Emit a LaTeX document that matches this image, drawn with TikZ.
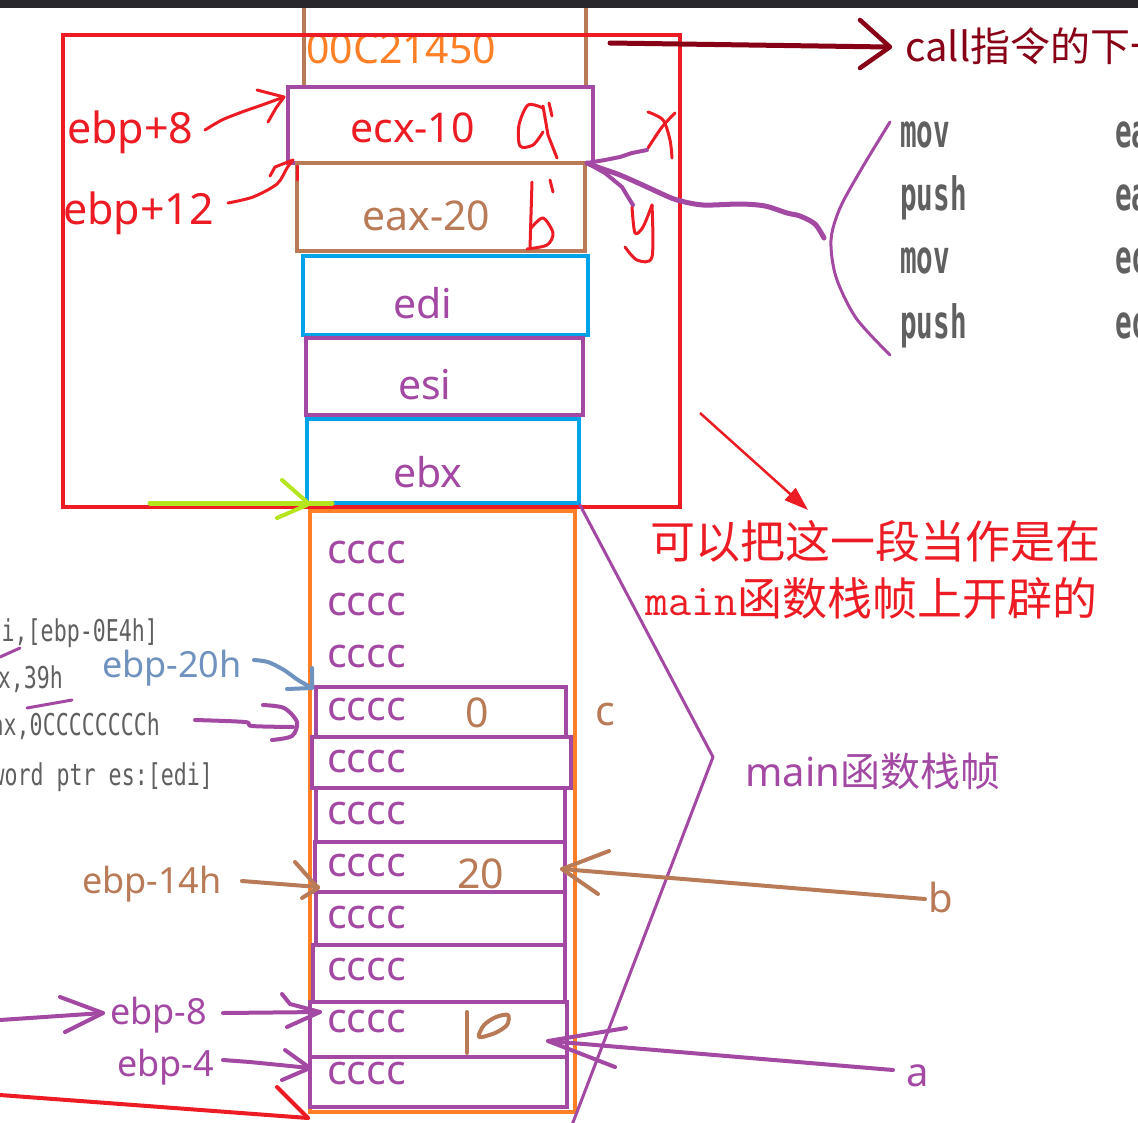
\documentclass[tikz,border=0pt]{standalone}
\usepackage{fontspec}
\setmainfont{Noto Sans}
\newfontfamily\cjk{Noto Sans CJK SC}
\newfontfamily\asmfont{DejaVu Sans Mono}
\usetikzlibrary{arrows.meta}
\definecolor{pPurple}{RGB}{163,73,164}
\definecolor{pBrown}{RGB}{185,122,87}
\definecolor{pBlue}{RGB}{0,162,232}
\definecolor{pOrange}{RGB}{255,127,39}
\definecolor{pRed}{RGB}{237,28,36}
\definecolor{pLime}{RGB}{181,230,29}
\definecolor{pDark}{RGB}{136,0,21}
\definecolor{pSteel}{RGB}{112,146,190}
\definecolor{asmgray}{RGB}{96,96,96}
\definecolor{barcol}{RGB}{40,40,44}
\begin{document}
\begin{tikzpicture}[x=1pt,y=-1pt,
  txt/.style={inner sep=0pt, anchor=base west},
  f42/.style={font=\fontsize{41}{48}\selectfont},
  f36/.style={font=\fontsize{36}{44}\selectfont},
  cc/.style={txt, text=pPurple, font=\fontsize{41}{48}\selectfont},
  asmR/.style={txt, text=asmgray, font=\asmfont\bfseries\fontsize{46}{50}\selectfont},
  asmL/.style={inner sep=0pt, anchor=base east, text=asmgray, font=\asmfont\fontsize{30}{34}\selectfont},
  hand/.style={line width=4pt, line cap=round, line join=round},
  thin hand/.style={line width=3pt, line cap=round, line join=round},
  cell/.style={draw=pPurple, line width=4.5pt}]
\useasboundingbox (0,0) rectangle (1138,1122);
\clip (0,0) rectangle (1138,1122);
\fill[white] (0,0) rectangle (1138,1122);

% ---------- background assembly listing ----------
\node[asmR] (r1) at (900,147) {\scalebox{0.6}[1]{mov}};
\node[asmR] (r2) at (900,210) {\scalebox{0.6}[1]{push}};
\node[asmR] (r3) at (900,273) {\scalebox{0.6}[1]{mov}};
\node[asmR] (r4) at (900,338) {\scalebox{0.6}[1]{push}};
\node[asmR] (s1) at (1115,147) {\scalebox{0.6}[1]{eax}};
\node[asmR] (s2) at (1115,210) {\scalebox{0.6}[1]{eax}};
\node[asmR] (s3) at (1115,273) {\scalebox{0.6}[1]{ecx}};
\node[asmR] (s4) at (1115,338) {\scalebox{0.6}[1]{ecx}};
\node[asmL] (l1) at (158,641) {\scalebox{0.72}[1]{lea edi,[ebp-0E4h]}};
\node[asmL] (l2) at (63,688) {\scalebox{0.72}[1]{mov ecx,39h}};
\node[asmL] (l3) at (160,735) {\scalebox{0.72}[1]{mov eax,0CCCCCCCCh}};
\node[asmL] (l4) at (213,785) {\scalebox{0.72}[1]{stos dword ptr es:[edi]}};
\draw[pPurple, thin hand] (0,657) -- (20,648);
\draw[pPurple, thin hand] (27,708) -- (72,700);

% ---------- upper stack boxes ----------
\draw[pBrown, line width=4pt] (304,0) -- (304,87) -- (586,87) -- (586,0);
\draw[pPurple, line width=4.5pt] (288,87) rectangle (593,163);
\draw[pBrown, line width=4.5pt] (297,163) rectangle (585,251);
\draw[pBlue, line width=4.5pt] (303,256) rectangle (588,335);
\draw[pPurple, line width=4.5pt] (306,338) rectangle (583,415);
\draw[pBlue, line width=4.5pt] (307,419) rectangle (579,503);

\node[txt, f42, text=pOrange] (ret) at (306,63) {00C21450};
\node[txt, f42, text=pRed] (ecx) at (350,142) {ecx-10};
\node[txt, f42, text=pBrown] (eax) at (362,230) {eax-20};
\node[txt, f42, text=pPurple] (edi) at (393,318) {edi};
\node[txt, f42, text=pPurple] (esi) at (398,399) {esi};
\node[txt, f42, text=pPurple] (ebx) at (393,487) {ebx};

% ---------- main frame ----------
\draw[pOrange, line width=4pt] (310,511) rectangle (575,1112);
\draw[cell] (316,687) rectangle (566,737);
\draw[cell] (312,737) rectangle (571,788);
\draw[cell] (316,788) rectangle (565,842);
\draw[cell] (315,842) rectangle (565,892);
\draw[cell] (316,892) rectangle (565,945);
\draw[cell] (313,945) rectangle (565,1002);
\draw[cell] (310,1002) rectangle (567,1057);
\draw[cell] (310,1057) rectangle (567,1107);
\foreach \y/\n in {563/1,615/2,667/3,720/4,772/5,824/6,876/7,928/8,980/9,1032/10,1084/11}
  \node[cc] (c\n) at (327,\y) {cccc};
\node[txt, f42, text=pBrown] (v0) at (465,727) {0};
\node[txt, f42, text=pBrown] (v20) at (457,888) {20};
\node[txt, f42, text=pBrown] (lc) at (595,725) {c};
% handwritten 10
\draw[pBrown, hand] (467,1012) -- (467,1053);
\draw[pBrown, hand] plot[smooth cycle] coordinates {(479,1037) (484,1025) (496,1017) (508,1015) (507,1025) (495,1033)};

% ---------- red region ----------
\draw[pRed, line width=3.5pt] (63,35) rectangle (680,507);
\draw[pLime, line width=5pt, line cap=round] (150,503) -- (332,503);
\draw[pLime, hand] (282,480) -- (307,502);
\draw[pLime, hand] (277,518) -- (307,505);

% ---------- left labels ----------
\node[txt, font=\fontsize{43}{50}\selectfont, text=pRed] (p8) at (67,143) {ebp+8};
\node[txt, font=\fontsize{43}{50}\selectfont, text=pRed] (p12) at (63,224) {ebp+12};
\node[txt, f36, text=pSteel] (m20) at (102,677) {ebp-20h};
\node[txt, f36, text=pBrown] (m14) at (82,893) {ebp-14h};
\node[txt, f36, text=pPurple] (m8) at (110,1024) {ebp-8};
\node[txt, f36, text=pPurple] (m4) at (117,1076) {ebp-4};

\draw[pRed, thin hand] plot[smooth] coordinates {(205,130) (222,120) (242,112) (262,105) (284,97)};
\draw[pRed, thin hand] (257,90) -- (284,97) -- (276,108) -- (268,122);
\draw[pRed, thin hand] plot[smooth] coordinates {(228,203) (253,197) (277,184) (287,168) (293,160)};
\draw[pRed, thin hand] (270,176) -- (275,167) -- (293,160);
\draw[pRed, thin hand] (297,166) -- (297,180);

\draw[pSteel, hand] plot[smooth] coordinates {(254,660) (268,662) (284,670) (298,680) (312,688)};
\draw[pSteel, hand] (287,689) -- (312,688) -- (312,668);

\draw[pPurple, hand] plot[smooth] coordinates {(195,720) (245,722) (252,726) (293,727)};
\draw[pPurple, hand] plot[smooth] coordinates {(263,705) (284,708) (297,722) (292,736) (272,740)};

\draw[pBrown, hand] (242,881) -- (318,887);
\draw[pBrown, hand] (295,862) -- (318,888) -- (302,898);

\draw[pPurple, hand] (0,1020) -- (103,1013);
\draw[pPurple, hand] (60,997) -- (103,1013) -- (65,1032);
\draw[pPurple, hand] (223,1013) -- (320,1012);
\draw[pPurple, hand] (282,994) -- (290,1004) -- (320,1012) -- (287,1027);
\draw[pPurple, hand] (223,1060) -- (250,1062) -- (310,1068);
\draw[pPurple, hand] (285,1050) -- (310,1068) -- (282,1080);

\draw[pRed, hand] (0,1095) -- (308,1118);
\draw[pRed, hand] (277,1087) -- (308,1118);

% ---------- handwritten a' b' x y ----------
\draw[pRed, thin hand] plot[smooth] coordinates {(543,108) (528,105) (519,125) (520,146) (533,145) (543,132)};
\draw[pRed, thin hand] (543,106) -- (548,135) -- (557,158);
\draw[pRed, thin hand] (549,103) -- (552,116);
\draw[pRed, thin hand] (532,182) -- (530,248);
\draw[pRed, thin hand] plot[smooth] coordinates {(531,228) (543,218) (553,233) (547,245) (527,249)};
\draw[pRed, thin hand] (550,180) -- (553,192);
\draw[pRed, thin hand] plot[smooth] coordinates {(648,112) (663,120) (670,140) (672,158)};
\draw[pRed, thin hand] plot[smooth] coordinates {(675,113) (662,127) (648,148)};
\draw[pRed, thin hand] plot[smooth] coordinates {(632,207) (635,233) (643,227) (652,205)};
\draw[pRed, thin hand] plot[smooth] coordinates {(652,205) (652,257) (637,260) (625,247)};

% ---------- right annotations ----------
\draw[pPurple, thin hand] plot[smooth] coordinates {(890,122) (862,168) (840,208) (831,240) (836,277) (856,318) (890,355)};
\draw[pPurple, line width=5pt, line cap=round, line join=round] plot[smooth] coordinates {(824,238) (815,224) (800,216) (787,213) (765,206) (740,204) (703,205) (677,200) (660,193) (647,187) (620,175) (600,168) (587,163)};
\draw[pPurple, hand] (587,163) -- (605,160) -- (620,157) -- (632,153) -- (647,150);
\draw[pPurple, hand] (587,163) -- (605,173) -- (622,187) -- (628,197) -- (633,205);

\draw[pDark, line width=5pt, line cap=round] (610,43) -- (888,47);
\draw[pDark, line width=4.5pt, line cap=round, line join=round] (860,20) -- (890,47) -- (860,68);
\node[txt, text=pDark, font=\cjk\fontsize{40}{48}\selectfont] (call) at (905,61) {call指令的下一条指令};
\fill[white] (955,34) rectangle (962,47);

\draw[pRed, line width=2.5pt, -{Triangle[length=24pt,width=16pt]}] (700,413) -- (808,510);
\node[txt, text=pRed, font=\cjk\fontsize{45}{52}\selectfont] (note1) at (650,558) {可以把这一段当作是在};
\node[txt, text=pRed, font=\cjk\fontsize{45}{52}\selectfont] (note2) at (645,615) {{\ttfamily main}函数栈帧上开辟的};

\draw[pPurple, thin hand] (580,505) -- (713,757) -- (572,1125);
\node[txt, text=pPurple, font=\fontsize{40}{48}\selectfont] (mf) at (745,786) {main{\cjk 函数栈帧}};

\draw[pBrown, hand] (925,899) -- (562,869);
\draw[pBrown, hand] (609,851) -- (562,869) -- (598,894);
\node[txt, text=pBrown, font=\fontsize{40}{48}\selectfont] (lb) at (928,912) {b};
\draw[pPurple, hand] (893,1070) -- (548,1041);
\draw[pPurple, hand] (626,1028) -- (548,1041) -- (615,1067);
\node[txt, text=pPurple, font=\fontsize{40}{48}\selectfont] (la) at (906,1086) {a};

% ---------- window bar ----------
\fill[barcol] (0,0) rectangle (1138,8);
\end{tikzpicture}
\end{document}
